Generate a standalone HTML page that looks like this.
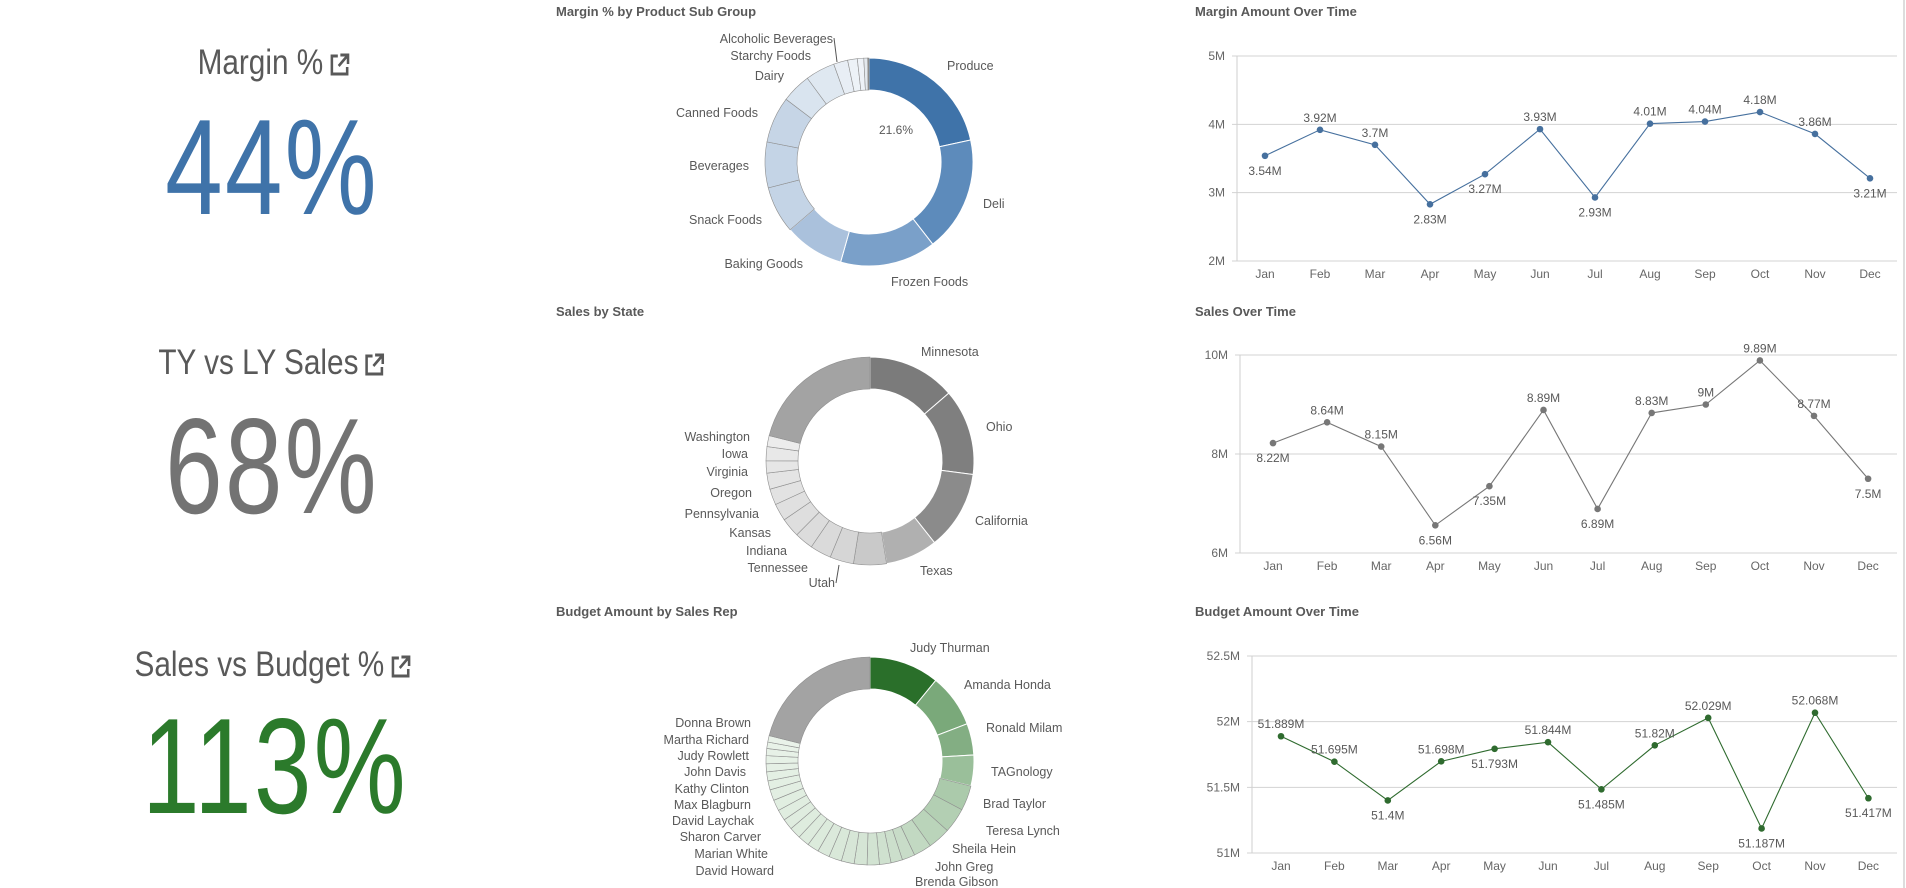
<!DOCTYPE html>
<html><head><meta charset="utf-8">
<style>
html,body{margin:0;padding:0;background:#fff;}
body{width:1906px;height:888px;position:relative;overflow:hidden;font-family:"Liberation Sans",sans-serif;}
.kt{position:absolute;color:#595959;font-size:35px;white-space:nowrap;transform:translateX(-50%) scaleX(0.85);}
.kt svg{position:static;vertical-align:middle;margin-left:6px;}
.kv{position:absolute;font-size:136px;line-height:1;white-space:nowrap;transform:translate(-50%,-50%) scaleX(0.76);letter-spacing:3px;}
svg{position:absolute;left:0;top:0;}
.ttl{font-size:13px;font-weight:bold;fill:#595959;}
.lbl{font-size:12.5px;fill:#595959;}
.tk{font-size:12px;fill:#666;}
.dl{font-size:12px;fill:#595959;}
</style></head>
<body>
<div class="kt" style="left:274px;top:43px;">Margin %<svg width="26" height="26" viewBox="0 0 26 26"><path d="M11 4H4v18h18v-7" fill="none" stroke="#595959" stroke-width="3"/><path d="M14 3h9v9M23 3L12 14" fill="none" stroke="#595959" stroke-width="3"/></svg></div>
<div class="kv" style="left:272px;top:167px;color:#3f73a9;">44%</div>
<div class="kt" style="left:272px;top:343px;">TY vs LY Sales<svg width="26" height="26" viewBox="0 0 26 26"><path d="M11 4H4v18h18v-7" fill="none" stroke="#595959" stroke-width="3"/><path d="M14 3h9v9M23 3L12 14" fill="none" stroke="#595959" stroke-width="3"/></svg></div>
<div class="kv" style="left:272px;top:466px;color:#737373;">68%</div>
<div class="kt" style="left:273px;top:645px;">Sales vs Budget %<svg width="26" height="26" viewBox="0 0 26 26"><path d="M11 4H4v18h18v-7" fill="none" stroke="#595959" stroke-width="3"/><path d="M14 3h9v9M23 3L12 14" fill="none" stroke="#595959" stroke-width="3"/></svg></div>
<div class="kv" style="left:275px;top:766px;color:#2b7a2b;">113%</div>

<svg id="svg" width="1906" height="888">
<line x1="1904" y1="0" x2="1904" y2="888" stroke="#ddd" stroke-width="2"/>
<text class="ttl" x="556" y="16">Margin % by Product Sub Group</text>
<text class="ttl" x="556" y="316">Sales by State</text>
<text class="ttl" x="556" y="616">Budget Amount by Sales Rep</text>
<text class="ttl" x="1195" y="16">Margin Amount Over Time</text>
<text class="ttl" x="1195" y="316">Sales Over Time</text>
<text class="ttl" x="1195" y="616">Budget Amount Over Time</text>
<g id="g1">
<text class="lbl" x="947" y="70">Produce</text>
<text class="lbl" x="983" y="208">Deli</text>
<text class="lbl" x="891" y="286">Frozen Foods</text>
<text class="lbl" x="803" y="268" text-anchor="end">Baking Goods</text>
<text class="lbl" x="762" y="224" text-anchor="end">Snack Foods</text>
<text class="lbl" x="749" y="170" text-anchor="end">Beverages</text>
<text class="lbl" x="758" y="117" text-anchor="end">Canned Foods</text>
<text class="lbl" x="784" y="80" text-anchor="end">Dairy</text>
<text class="lbl" x="811" y="60" text-anchor="end">Starchy Foods</text>
<text class="lbl" x="833" y="43" text-anchor="end">Alcoholic Beverages</text>
<line x1="834" y1="38" x2="837" y2="62" stroke="#555"/>
<text class="dl" x="896" y="134" text-anchor="middle">21.6%</text>
</g>
<g id="g2">
<text class="lbl" x="921" y="356">Minnesota</text>
<text class="lbl" x="986" y="431">Ohio</text>
<text class="lbl" x="975" y="525">California</text>
<text class="lbl" x="920" y="575">Texas</text>
<text class="lbl" x="750" y="441" text-anchor="end">Washington</text>
<text class="lbl" x="748" y="458" text-anchor="end">Iowa</text>
<text class="lbl" x="748" y="476" text-anchor="end">Virginia</text>
<text class="lbl" x="752" y="497" text-anchor="end">Oregon</text>
<text class="lbl" x="759" y="518" text-anchor="end">Pennsylvania</text>
<text class="lbl" x="771" y="537" text-anchor="end">Kansas</text>
<text class="lbl" x="787" y="555" text-anchor="end">Indiana</text>
<text class="lbl" x="808" y="572" text-anchor="end">Tennessee</text>
<text class="lbl" x="835" y="587" text-anchor="end">Utah</text>
<line x1="836" y1="583" x2="839" y2="565" stroke="#555"/>
</g>
<g id="g3">
<text class="lbl" x="910" y="652">Judy Thurman</text>
<text class="lbl" x="964" y="689">Amanda Honda</text>
<text class="lbl" x="986" y="732">Ronald Milam</text>
<text class="lbl" x="991" y="776">TAGnology</text>
<text class="lbl" x="983" y="808">Brad Taylor</text>
<text class="lbl" x="986" y="835">Teresa Lynch</text>
<text class="lbl" x="952" y="853">Sheila Hein</text>
<text class="lbl" x="935" y="871">John Greg</text>
<text class="lbl" x="915" y="886">Brenda Gibson</text>
<text class="lbl" x="751" y="727" text-anchor="end">Donna Brown</text>
<text class="lbl" x="749" y="744" text-anchor="end">Martha Richard</text>
<text class="lbl" x="749" y="760" text-anchor="end">Judy Rowlett</text>
<text class="lbl" x="746" y="776" text-anchor="end">John Davis</text>
<text class="lbl" x="749" y="793" text-anchor="end">Kathy Clinton</text>
<text class="lbl" x="751" y="809" text-anchor="end">Max Blagburn</text>
<text class="lbl" x="754" y="825" text-anchor="end">David Laychak</text>
<text class="lbl" x="761" y="841" text-anchor="end">Sharon Carver</text>
<text class="lbl" x="768" y="858" text-anchor="end">Marian White</text>
<text class="lbl" x="774" y="875" text-anchor="end">David Howard</text>
</g>
<g id="l1"></g>
<g id="l2"></g>
<g id="l3"></g>
</svg>
<script>
const NS="http://www.w3.org/2000/svg";
const marginCats=["Produce","Deli","Frozen Foods","Baking Goods","Snack Foods","Beverages","Canned Foods","Dairy","Starchy Foods","Alcoholic Beverages","Other A","Other B","Other C","Other D"];
const marginVals=[21.6,17.9,14.9,9.3,7.3,7.1,7.2,4.6,4.6,2.2,1.5,1.0,0.6,0.2];
const marginColors=["#3f73a9","#5d8bbb","#7aa0c9","#aac1dc","#c4d4e6","#c4d4e6","#c6d5e6","#d9e4ef","#dfe8f1","#e8eef5","#edf2f7","#eef2f7","#e4e9ee","#8a8a8a"];
const stateCats=["Minnesota","Ohio","California","Texas","Utah","Tennessee","Indiana","Kansas","Pennsylvania","Oregon","Virginia","Iowa","State M","Washington","State O","Others"];
const stateVals=[13.7,13.4,12.3,8.1,5.1,3.7,3.3,2.9,3.0,2.7,2.5,2.5,1.9,2.2,1.7,21.1];
const stateColors=["#7b7b7b","#7f7f7f","#8b8b8b","#b0b0b0","#c9c9c9","#d6d6d6","#dadada","#dcdcdc","#dedede","#e0e0e0","#e2e2e2","#e4e4e4","#e6e6e6","#e8e8e8","#ececec","#a3a3a3"];
const repCats=["Judy Thurman","Amanda Honda","Ronald Milam","TAGnology","Brad Taylor","Teresa Lynch","Sheila Hein","John Greg","Brenda Gibson","R10","R11","R12","R13","R14","R15","R16","R17","R18","R19","R20","R21","R22","R23","R24","R25","R26","R27","R28","R29","R30","Others"];
const repVals=[10.9,8.3,4.9,4.8,3.9,3.9,3.5,2.8,2.0,1.8,1.8,1.9,2.0,2.0,2.0,1.9,1.8,1.8,1.8,1.7,1.7,1.7,1.7,1.4,1.4,1.25,1.25,1.1,1.0,1.0,21.1];
const repColors=["#2a6f2a","#7aa97a","#83ae83","#9abf9a","#abcaab","#b3cfb3","#bad4ba","#c2d9c2","#c8dcc8","#ccdfcc","#cfe1cf","#d2e3d2","#d5e5d5","#d7e6d7","#d9e8d9","#dbe9db","#dcebdc","#ddebdd","#deecde","#dfecdf","#e0ede0","#e1eee1","#e2eee2","#e3efe3","#e4f0e4","#e5f0e5","#e6f1e6","#e7f1e7","#e8f2e8","#e9f2e9","#a3a3a3"];

const months=["Jan","Feb","Mar","Apr","May","Jun","Jul","Aug","Sep","Oct","Nov","Dec"];
const marginAmt=[3.54,3.92,3.7,2.83,3.27,3.93,2.93,4.01,4.04,4.18,3.86,3.21];
const marginLbl=["3.54M","3.92M","3.7M","2.83M","3.27M","3.93M","2.93M","4.01M","4.04M","4.18M","3.86M","3.21M"];
const marginPos=[1,-1,-1,1,1,-1,1,-1,-1,-1,-1,1];
const marginTicks=[2,3,4,5];
const salesAmt=[8.22,8.64,8.15,6.56,7.35,8.89,6.89,8.83,9,9.89,8.77,7.5];
const salesLbl=["8.22M","8.64M","8.15M","6.56M","7.35M","8.89M","6.89M","8.83M","9M","9.89M","8.77M","7.5M"];
const salesPos=[1,-1,-1,1,1,-1,1,-1,-1,-1,-1,1];
const salesTicks=[6,8,10];
const budgetAmt=[51.889,51.695,51.4,51.698,51.793,51.844,51.485,51.82,52.029,51.187,52.068,51.417];
const budgetLbl=["51.889M","51.695M","51.4M","51.698M","51.793M","51.844M","51.485M","51.82M","52.029M","51.187M","52.068M","51.417M"];
const budgetPos=[-1,-1,1,-1,1,-1,1,-1,-1,1,-1,1];
const budgetTicks=[51,51.5,52,52.5];
const budgetTickLbl=["51M","51.5M","52M","52.5M"];

function el(tag,attrs,parent){const e=document.createElementNS(NS,tag);for(const k in attrs)e.setAttribute(k,attrs[k]);parent.appendChild(e);return e;}

function donut(gid,cats,vals,colors,cx,cy,ro,ri,prefix){
  const g=document.getElementById(gid);
  const total=vals.reduce((a,b)=>a+b,0);
  let a0=0;
  vals.forEach((v,i)=>{
    const a1=a0+v/total*2*Math.PI;
    const p=(a,r)=>[cx+r*Math.sin(a),cy-r*Math.cos(a)];
    const [x0,y0]=p(a0,ro),[x1,y1]=p(a1,ro),[x2,y2]=p(a1,ri),[x3,y3]=p(a0,ri);
    const lg=(a1-a0)>Math.PI?1:0;
    const path=el("path",{d:`M${x0},${y0}A${ro},${ro} 0 ${lg} 1 ${x1},${y1}L${x2},${y2}A${ri},${ri} 0 ${lg} 0 ${x3},${y3}Z`,fill:colors[i%colors.length],stroke:i>3?"#8f8f8f":"#ffffff","stroke-width":i>3?"0.6":"1"},g);
    
    
    a0=a1;
  });
}
donut("g1",marginCats,marginVals,marginColors,869,162,104,72,"margin");
donut("g2",stateCats,stateVals,stateColors,870,461,104,72,"state");
donut("g3",repCats,repVals,repColors,870,761,104,72,"rep");

function lineChart(gid,vals,lbls,pos,ticks,tickLbls,o){
  const g=document.getElementById(gid);
  const ys=v=>o.yBot-(v-o.vMin)*(o.yBot-o.yTop)/(o.vMax-o.vMin);
  const xs=i=>o.x0+i*o.step;
  ticks.forEach((t,i)=>{
    const gl=el("line",{x1:o.axisX-5,x2:1897,y1:ys(t),y2:ys(t),stroke:"#d3d3d3"},g);
    
    
    const tl=el("text",{x:o.axisX-12,y:ys(t)+4,"text-anchor":"end",class:"tk"},g);
    tl.textContent=tickLbls[i];
    
    
  });
  const ax=el("line",{x1:o.axisX,x2:o.axisX,y1:o.yTop,y2:o.yBot,stroke:"#cfcfcf"},g);
  
  
  months.forEach((m,i)=>{
    const t=el("text",{x:xs(i),y:o.yBot+17,"text-anchor":"middle",class:"tk"},g);
    t.textContent=m;
    
    
  });
  const pl=el("polyline",{points:vals.map((v,i)=>xs(i)+","+ys(v)).join(" "),fill:"none",stroke:o.color,"stroke-width":"1.1"},g);
  
  
  vals.forEach((v,i)=>{
    const c=el("circle",{cx:xs(i),cy:ys(v),r:3.3,fill:o.color},g);
    
    
    const t=el("text",{x:xs(i),y:ys(v)+(pos[i]<0?-8:19),"text-anchor":"middle",class:"dl"},g);
    t.textContent=lbls[i];
    
    
  });
}
lineChart("l1",marginAmt,marginLbl,marginPos,marginTicks,marginTicks.map(t=>t+"M"),{vMin:2,vMax:5,yTop:56,yBot:261,x0:1265,step:55,axisX:1237,color:"#46709e"});
lineChart("l2",salesAmt,salesLbl,salesPos,salesTicks,salesTicks.map(t=>t+"M"),{vMin:6,vMax:10,yTop:355,yBot:553,x0:1273,step:54.1,axisX:1240,color:"#777777"});
lineChart("l3",budgetAmt,budgetLbl,budgetPos,budgetTicks,budgetTickLbl,{vMin:51,vMax:52.5,yTop:656,yBot:853,x0:1281,step:53.4,axisX:1252,color:"#2f6b2f"});
</script>
</body></html>
